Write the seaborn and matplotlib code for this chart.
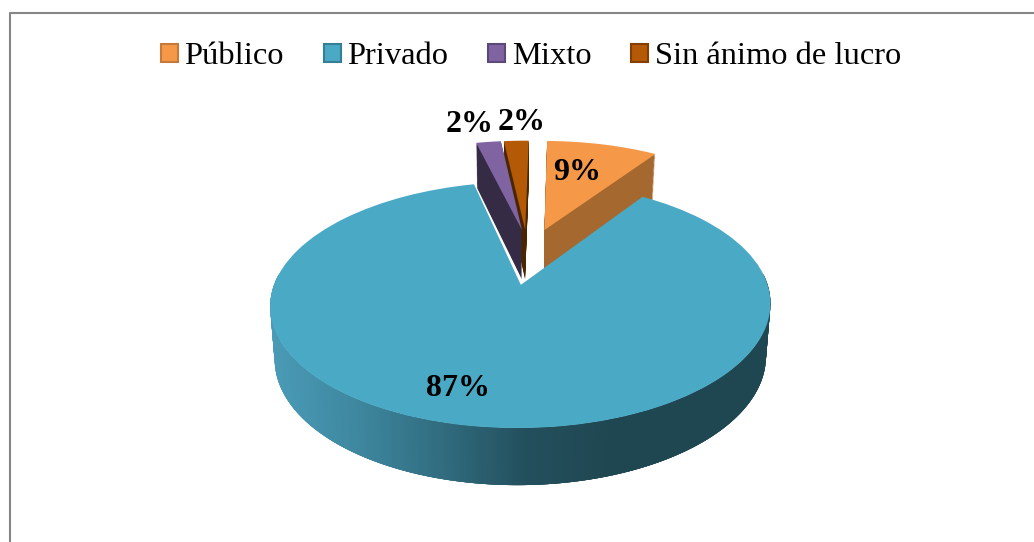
import numpy as np
import seaborn as sns
import matplotlib.pyplot as plt
from matplotlib.collections import PolyCollection
from matplotlib.colors import LinearSegmentedColormap
from matplotlib.patches import Patch
from matplotlib.transforms import Transform

categories = ["Público", "Privado", "Mixto", "Sin ánimo de lucro"]
values = [9, 87, 2, 2]
top_colors = ["#f59848", "#4aa9c5", "#8064a2", "#b45a06"]
side_colors = ["#a5682e", "#1f4752", "#352b45", "#4a2600"]
explode = [0.08, 0.424, 0.08, 0.08]

# layout of the fake 3d pie, in pixels
cx, cy, a, b, k = 537, 238, 231, 105, 0.153
nudge = [2, 2, -12, -11]
label_pos = [(577, 172), (458, 388), (470, 125), (522, 123)]


class Perspective(Transform):
    input_dims = 2
    output_dims = 2

    def __init__(self, dx=0, z=0):
        super().__init__()
        self.dx = dx
        self.z = z

    def transform_non_affine(self, values):
        u, v = np.asarray(values).T
        w = 1 + k * v
        x = cx + a * u / w + self.dx
        y = cy - b * v / w
        x = 520 + (x - 520) * (1 - 0.018 * self.z)
        y = y + self.z * (50 - 5 * v)
        return np.column_stack([x, y])


sns.set_theme(style="white")
plt.rcParams['font.family'] = ['Liberation Serif', 'DejaVu Sans']

fig = plt.figure(figsize=(10.34, 5.42), dpi=100)
ax = fig.add_axes([0, 0, 1, 1])


def draw_pie(colors, z, only):
    wedges, _ = ax.pie(values, explode=explode, colors=colors, startangle=89, counterclock=False)
    for i, wedge in enumerate(wedges):
        if i == only:
            wedge.set_transform(Perspective(nudge[i], z) + ax.transData)
            wedge.set_edgecolor('none')
        else:
            wedge.remove()
    return wedges[only]


# far slices first, the big slice goes on top of them
for i in [0, 3, 2]:
    for z in np.linspace(1, 0.02, 40):
        draw_pie(side_colors, z, i)
    draw_pie(top_colors, 0, i)

# side of the big slice, shaded from left to right
side_cmap = LinearSegmentedColormap.from_list(
    "side", [(0, "#4a9bb7"), (0.25, "#3e879f"), (0.5, "#316c7f"), (0.75, "#234f5c"), (1, "#1f4752")])
big = draw_pie(side_colors, 0, 1)
th = np.radians(np.linspace(big.theta1, big.theta2, 500))
th = th[np.sin(th) < 0.1]
rim = np.column_stack([big.center[0] + np.cos(th), big.center[1] + np.sin(th)])
rim_top = Perspective(nudge[1], 0).transform_non_affine(rim)
rim_bottom = Perspective(nudge[1], 1).transform_non_affine(rim)
big.remove()
strips = []
shade = []
# strips overlap the next ones so no seams show between them
for j in range(len(th) - 1):
    end = min(j + 4, len(th) - 1)
    strips.append([rim_top[j], rim_top[end], rim_bottom[end], rim_bottom[j]])
    shade.append(side_cmap(np.clip((rim_top[j][0] - 270) / 340, 0, 1)))
ax.add_collection(PolyCollection(strips, facecolors=shade, edgecolors='none'))
top = draw_pie(top_colors, 0, 1)
top.set_zorder(3)

ax.set_aspect('auto')
ax.set_xlim(0, 1034)
ax.set_ylim(542, 0)
ax.set_axis_off()

for (x, y), v in zip(label_pos, values):
    ax.text(x, y, f"{v}%", ha='center', va='center', fontsize=23, fontweight='bold', color='black', zorder=5)

# chart frame, cut off at the right and bottom of the picture
ax.plot([10, 10, 1034], [542, 12.5, 12.5], color='#868686', lw=1.5, zorder=1)

handles = [Patch(facecolor=c, edgecolor=e, linewidth=1.5, label=n)
           for c, e, n in zip(top_colors, ["#c57a3a", "#357f96", "#5d4978", "#843f00"], categories)]
ax.legend(handles=handles, ncol=4, loc='center', bbox_to_anchor=(531 / 1034, 1 - 57 / 542), frameon=False,
          fontsize=23.4, labelcolor='black', handlelength=0.52, handleheight=0.52,
          handletextpad=0.2, columnspacing=1.23)

plt.savefig("out.png", dpi=100)
